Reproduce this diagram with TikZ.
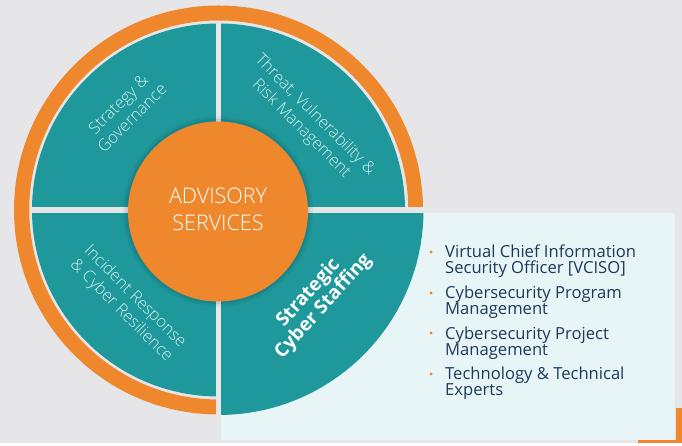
\documentclass[tikz,border=0pt]{standalone}
\usepackage{fontspec}
\setmainfont{Open Sans}
\newfontfamily\thinfont{Open Sans Light}
\usetikzlibrary{shapes,backgrounds}

\definecolor{bggray}{HTML}{E6E6E9}
\definecolor{tealc}{HTML}{1F989C}
\definecolor{orangec}{HTML}{EF882D}
\definecolor{panelc}{HTML}{E7F5F7}
\definecolor{palec}{HTML}{D2F2F4}
\definecolor{navyc}{HTML}{1D3A5A}

\begin{document}
\begin{tikzpicture}[x=1pt,y=1pt,
	quad/.style={text=palec,font=\thinfont\fontsize{16.5}{19.5}\selectfont,align=center,inner sep=0pt},
	item/.style={text=navyc,font=\fontsize{16.6}{16}\selectfont,anchor=base west,inner sep=0pt},
	gap/.style={draw=bggray,line width=5.5pt}]
	\fill[bggray] (0,0) rectangle (682,443);
	% panel and its corner
	\fill[panelc] (221,3) rectangle (675,230);
	\fill[orangec] (675.5,0) rectangle (682,35);
	\fill[orangec] (638,0) rectangle (682,3);
	% outer ring
	\fill[orangec] (218.5,233) ++(0:204.5) arc (0:270:204.5) -- ++(89:15) arc (270:0:189.5) -- cycle;
	% quadrants
	\fill[tealc] (218.5,233) -- ++(0:186.5) arc (0:270:186.5) -- cycle;
	\fill[tealc] (218.5,233) -- ++(270:205) arc (270:360:205) -- cycle;
	\draw[gap] (218.5,233) -- (218.5,420.5);
	\draw[gap] (218.5,233) -- (218.5,0);
	\draw[gap] (30.5,233) -- (424.5,233);
	% hub
	\fill[black,opacity=0.05] (218,231.5) circle (95);
	\fill[black,opacity=0.07] (218,231.5) circle (92.5);
	\fill[orangec] (218,231.5) circle (90);
	\node[font=\thinfont\fontsize{21.5}{27}\selectfont,text=white,anchor=base,inner sep=0pt] (adv1) at (218,239) {ADVISORY};
	\node[font=\thinfont\fontsize{21.5}{27}\selectfont,text=white,anchor=base,inner sep=0pt] (adv2) at (218,212) {SERVICES};
	% quadrant labels
	\node[quad,rotate=45] (strat) at (125,332) {Strategy \&\\Governance};
	\node[quad,rotate=-45] (threat) at (308,321) {Threat, Vulnerability \&\\Risk Management};
	\node[quad,rotate=-45] (incid) at (128,139) {Incident Response\\\& Cyber Resilience};
	\node[text=white,font=\bfseries\fontsize{19}{20}\selectfont,align=center,inner sep=0pt,rotate=48] (staff) at (316,143) {Strategic\\Cyber Staffing};
	% list
	\foreach \y in {191,150,110,69}
		\fill[orangec] (431,\y) circle (1.6);
	\foreach \y/\txt [count=\i] in {185/{Virtual Chief Information},169/{Security Officer [VCISO]},
		144/{Cybersecurity Program},128/{Management},103/{Cybersecurity Project},87/{Management},
		63/{Technology \& Technical},47/{Experts}}
		\node[item] (line\i) at (445,\y) {\txt};
\end{tikzpicture}
\end{document}
